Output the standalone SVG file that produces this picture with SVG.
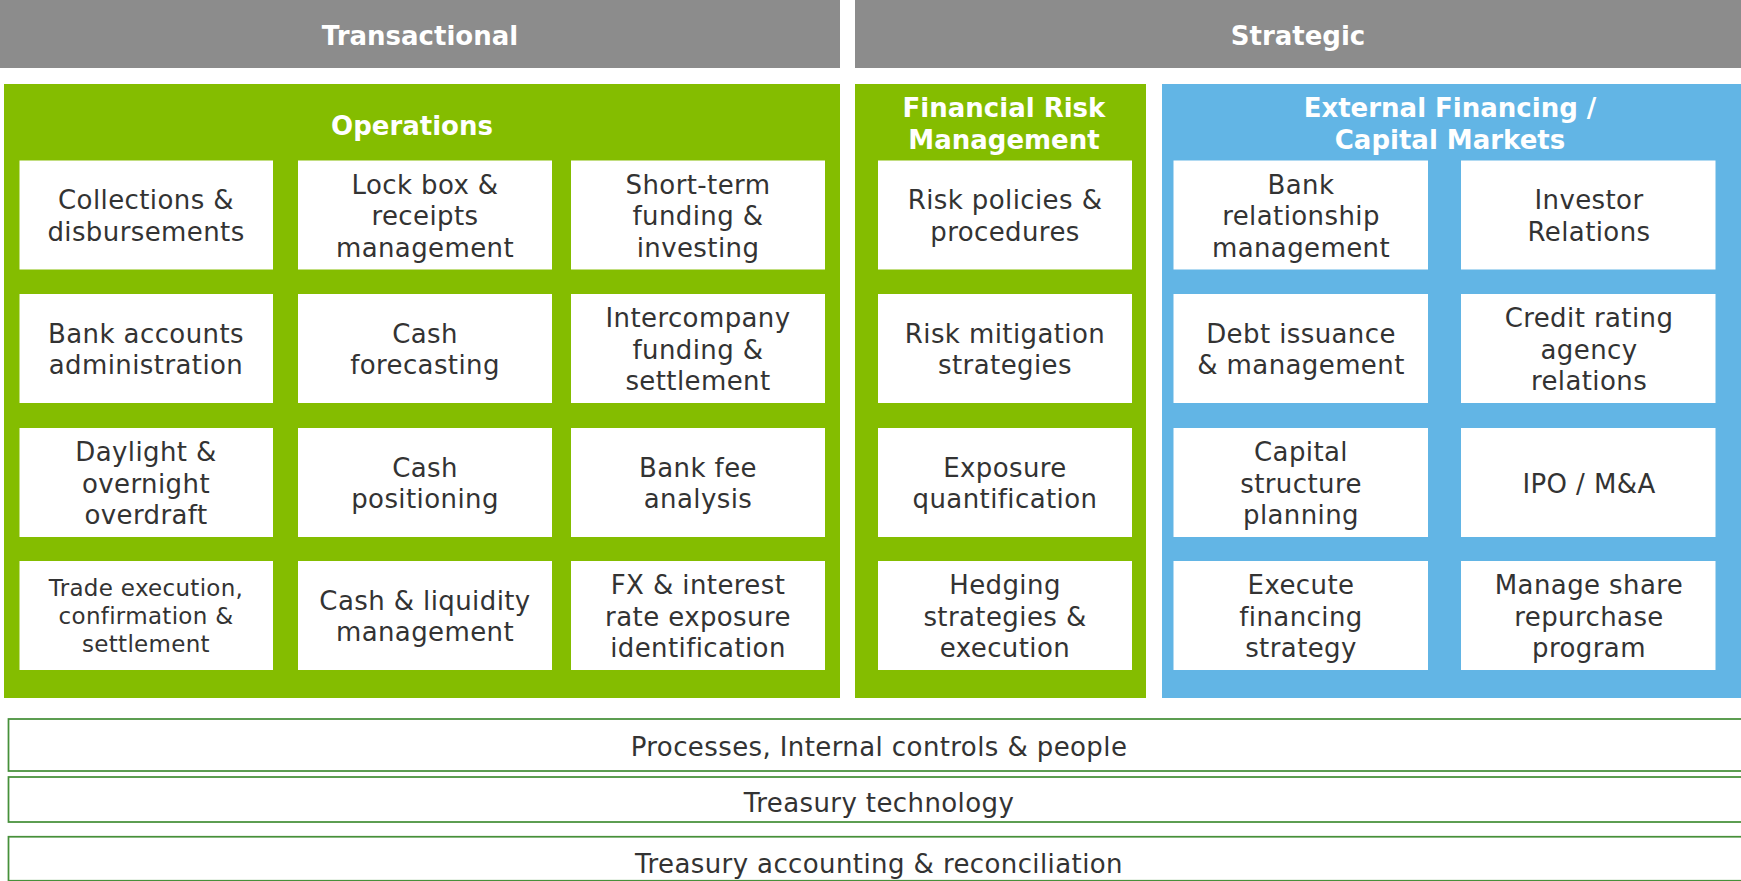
<svg xmlns="http://www.w3.org/2000/svg" width="1741" height="881" viewBox="0 0 1741 881">
  <style>
    .hdr { fill: #8c8c8c; }
    .ops { fill: #84bd00; }
    .ext { fill: #62b5e5; }
    .box { fill: #ffffff; }
    .bar { fill: #ffffff; stroke: #46903a; stroke-width: 1.75; }
    .h { font-family: "DejaVu Sans", Verdana, sans-serif; font-size: 26px; font-weight: bold; fill: #ffffff; text-anchor: middle; }
    .t { font-family: "DejaVu Sans", Verdana, sans-serif; font-size: 26px; fill: #333333; text-anchor: middle; letter-spacing: 0.4px; }
    .s { font-size: 23px; letter-spacing: 0.3px; }
  </style>

  <!-- column headers -->
  <g id="hdr-transactional">
    <rect class="hdr" x="0" y="0" width="840" height="68"/>
    <text class="h" x="420" y="45">Transactional</text>
  </g>
  <g id="hdr-strategic">
    <rect class="hdr" x="855" y="0" width="886" height="68"/>
    <text class="h" x="1298" y="45">Strategic</text>
  </g>

  <!-- panels -->
  <g id="panel-operations">
    <rect class="ops" x="4" y="84" width="836" height="614"/>
    <text class="h" x="412" y="135">Operations</text>
  </g>
  <g id="panel-risk">
    <rect class="ops" x="855" y="84" width="291" height="614"/>
    <text class="h" x="1004" y="117">Financial Risk<tspan x="1004" dy="32">Management</tspan></text>
  </g>
  <g id="panel-external">
    <rect class="ext" x="1162" y="84" width="579" height="614"/>
    <text class="h" x="1450" y="117">External Financing /<tspan x="1450" dy="32">Capital Markets</tspan></text>
  </g>

  <!-- Operations: column 1 -->
  <g id="op-collections">
    <rect class="box" x="19.5" y="160.5" width="253.5" height="109"/>
    <text class="t" x="146" y="209.25">Collections &amp;<tspan x="146" dy="31.5">disbursements</tspan></text>
  </g>
  <g id="op-bank-accounts">
    <rect class="box" x="19.5" y="294" width="253.5" height="109"/>
    <text class="t" x="146" y="342.75">Bank accounts<tspan x="146" dy="31.5">administration</tspan></text>
  </g>
  <g id="op-daylight">
    <rect class="box" x="19.5" y="428" width="253.5" height="109"/>
    <text class="t" x="146" y="461">Daylight &amp;<tspan x="146" dy="31.5">overnight</tspan><tspan x="146" dy="31.5">overdraft</tspan></text>
  </g>
  <g id="op-trade">
    <rect class="box" x="19.5" y="561" width="253.5" height="109"/>
    <text class="t s" x="146" y="596.4">Trade execution,<tspan x="146" dy="28">confirmation &amp;</tspan><tspan x="146" dy="28">settlement</tspan></text>
  </g>

  <!-- Operations: column 2 -->
  <g id="op-lockbox">
    <rect class="box" x="298" y="160.5" width="254" height="109"/>
    <text class="t" x="425" y="193.5">Lock box &amp;<tspan x="425" dy="31.5">receipts</tspan><tspan x="425" dy="31.5">management</tspan></text>
  </g>
  <g id="op-forecasting">
    <rect class="box" x="298" y="294" width="254" height="109"/>
    <text class="t" x="425" y="342.75">Cash<tspan x="425" dy="31.5">forecasting</tspan></text>
  </g>
  <g id="op-positioning">
    <rect class="box" x="298" y="428" width="254" height="109"/>
    <text class="t" x="425" y="476.75">Cash<tspan x="425" dy="31.5">positioning</tspan></text>
  </g>
  <g id="op-liquidity">
    <rect class="box" x="298" y="561" width="254" height="109"/>
    <text class="t" x="425" y="609.75">Cash &amp; liquidity<tspan x="425" dy="31.5">management</tspan></text>
  </g>

  <!-- Operations: column 3 -->
  <g id="op-shortterm">
    <rect class="box" x="571" y="160.5" width="254" height="109"/>
    <text class="t" x="698" y="193.5">Short-term<tspan x="698" dy="31.5">funding &amp;</tspan><tspan x="698" dy="31.5">investing</tspan></text>
  </g>
  <g id="op-intercompany">
    <rect class="box" x="571" y="294" width="254" height="109"/>
    <text class="t" x="698" y="327">Intercompany<tspan x="698" dy="31.5">funding &amp;</tspan><tspan x="698" dy="31.5">settlement</tspan></text>
  </g>
  <g id="op-bankfee">
    <rect class="box" x="571" y="428" width="254" height="109"/>
    <text class="t" x="698" y="476.75">Bank fee<tspan x="698" dy="31.5">analysis</tspan></text>
  </g>
  <g id="op-fx">
    <rect class="box" x="571" y="561" width="254" height="109"/>
    <text class="t" x="698" y="594">FX &amp; interest<tspan x="698" dy="31.5">rate exposure</tspan><tspan x="698" dy="31.5">identification</tspan></text>
  </g>

  <!-- Financial Risk Management -->
  <g id="frm-policies">
    <rect class="box" x="878" y="160.5" width="254" height="109"/>
    <text class="t" x="1005" y="209.25">Risk policies &amp;<tspan x="1005" dy="31.5">procedures</tspan></text>
  </g>
  <g id="frm-mitigation">
    <rect class="box" x="878" y="294" width="254" height="109"/>
    <text class="t" x="1005" y="342.75">Risk mitigation<tspan x="1005" dy="31.5">strategies</tspan></text>
  </g>
  <g id="frm-exposure">
    <rect class="box" x="878" y="428" width="254" height="109"/>
    <text class="t" x="1005" y="476.75">Exposure<tspan x="1005" dy="31.5">quantification</tspan></text>
  </g>
  <g id="frm-hedging">
    <rect class="box" x="878" y="561" width="254" height="109"/>
    <text class="t" x="1005" y="594">Hedging<tspan x="1005" dy="31.5">strategies &amp;</tspan><tspan x="1005" dy="31.5">execution</tspan></text>
  </g>

  <!-- External Financing / Capital Markets: column 1 -->
  <g id="ef-bank-rel">
    <rect class="box" x="1173.5" y="160.5" width="254.5" height="109"/>
    <text class="t" x="1301" y="193.5">Bank<tspan x="1301" dy="31.5">relationship</tspan><tspan x="1301" dy="31.5">management</tspan></text>
  </g>
  <g id="ef-debt">
    <rect class="box" x="1173.5" y="294" width="254.5" height="109"/>
    <text class="t" x="1301" y="342.75">Debt issuance<tspan x="1301" dy="31.5">&amp; management</tspan></text>
  </g>
  <g id="ef-capital">
    <rect class="box" x="1173.5" y="428" width="254.5" height="109"/>
    <text class="t" x="1301" y="461">Capital<tspan x="1301" dy="31.5">structure</tspan><tspan x="1301" dy="31.5">planning</tspan></text>
  </g>
  <g id="ef-execute">
    <rect class="box" x="1173.5" y="561" width="254.5" height="109"/>
    <text class="t" x="1301" y="594">Execute<tspan x="1301" dy="31.5">financing</tspan><tspan x="1301" dy="31.5">strategy</tspan></text>
  </g>

  <!-- External Financing / Capital Markets: column 2 -->
  <g id="ef-investor">
    <rect class="box" x="1461" y="160.5" width="254.5" height="109"/>
    <text class="t" x="1589" y="209.25">Investor<tspan x="1589" dy="31.5">Relations</tspan></text>
  </g>
  <g id="ef-credit">
    <rect class="box" x="1461" y="294" width="254.5" height="109"/>
    <text class="t" x="1589" y="327">Credit rating<tspan x="1589" dy="31.5">agency</tspan><tspan x="1589" dy="31.5">relations</tspan></text>
  </g>
  <g id="ef-ipo">
    <rect class="box" x="1461" y="428" width="254.5" height="109"/>
    <text class="t" x="1589" y="492.5">IPO / M&amp;A</text>
  </g>
  <g id="ef-repurchase">
    <rect class="box" x="1461" y="561" width="254.5" height="109"/>
    <text class="t" x="1589" y="594">Manage share<tspan x="1589" dy="31.5">repurchase</tspan><tspan x="1589" dy="31.5">program</tspan></text>
  </g>

  <!-- foundation layers -->
  <g id="layer-processes">
    <rect class="bar" x="8.5" y="719" width="1745" height="52"/>
    <text class="t" x="879" y="756">Processes, Internal controls &amp; people</text>
  </g>
  <g id="layer-technology">
    <rect class="bar" x="8.5" y="777" width="1745" height="45"/>
    <text class="t" x="879" y="812">Treasury technology</text>
  </g>
  <g id="layer-accounting">
    <rect class="bar" x="8.5" y="836.75" width="1745" height="44"/>
    <text class="t" x="879" y="873">Treasury accounting &amp; reconciliation</text>
  </g>

  <!-- no connectors in this layout -->
  <g id="connectors"/>
</svg>
